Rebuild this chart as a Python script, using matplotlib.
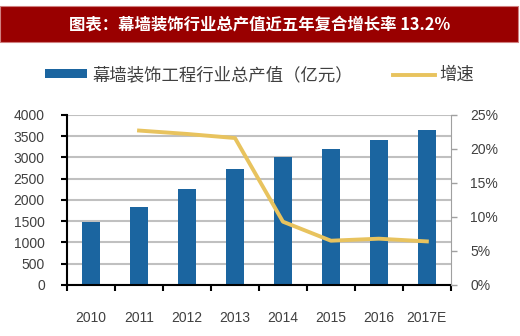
import matplotlib
matplotlib.use('Agg')
import matplotlib.pyplot as plt
from matplotlib.patches import Rectangle
from matplotlib.ticker import FuncFormatter
import numpy as np

plt.rcParams['font.family'] = ['Liberation Sans', 'Noto Sans CJK SC', 'DejaVu Sans']

# 数据
years = ['2010', '2011', '2012', '2013', '2014', '2015', '2016', '2017E']
output_value = [1480, 1830, 2250, 2730, 3000, 3200, 3400, 3650]
growth = [None, 22.7, 22.2, 21.6, 9.3, 6.5, 6.8, 6.4]

title = '图表：幕墙装饰行业总产值近五年复合增长率 13.2%'
bar_label = '幕墙装饰工程行业总产值（亿元）'
line_label = '增速'

bar_color = '#1B65A0'
line_color = '#E8C35E'
grid_color = '#C0C0C0'
text_color = '#404040'

fig = plt.figure(figsize=(5.2, 3.36), dpi=100)

# 标题栏
fig.patches.append(Rectangle((0, 0.875), 0.997, 0.107, transform=fig.transFigure,
                             facecolor='#990000', edgecolor='#D08080', linewidth=0.8))
fig.text(0.5, 0.928, title, color='white', fontsize=11.8, fontweight='bold',
         ha='center', va='center', family=['Noto Sans CJK SC', 'DejaVu Sans'])

ax = fig.add_axes([0.129, 0.152, 0.738, 0.506])
x = np.arange(len(years))
ax.bar(x, output_value, width=0.38, color=bar_color, zorder=3, label=bar_label)
ax.set_xlim(-0.5, len(years) - 0.5)
ax.set_ylim(0, 4000)
ax.set_yticks(range(0, 4001, 500))
ax.grid(axis='y', color=grid_color, linewidth=1.5, zorder=0)
ax.set_axisbelow(True)

ax.set_xticks(x)
ax.set_xticklabels(years)
ax.set_xticks(np.arange(-0.5, len(years)), minor=True)
ax.tick_params(axis='x', which='major', length=0, pad=19, labelsize=10, labelcolor=text_color)
ax.tick_params(axis='x', which='minor', length=4, width=1.5, direction='out', color='black')
ax.tick_params(axis='y', length=4, width=1.5, direction='out', color='black',
               labelsize=10, labelcolor=text_color, pad=12)

for s in ['top', 'right']:
    ax.spines[s].set_visible(False)
ax.spines['left'].set_linewidth(1.5)
ax.spines['bottom'].set_linewidth(1.5)
ax.spines['bottom'].set_zorder(4)

ax2 = ax.twinx()
gx = [i for i, g in enumerate(growth) if g is not None]
gy = [g for g in growth if g is not None]
ax2.plot(gx, gy, color=line_color, linewidth=2.8, zorder=5, label=line_label)
ax2.set_ylim(0, 25)
ax2.set_yticks(range(0, 26, 5))
ax2.yaxis.set_major_formatter(FuncFormatter(lambda v, p: f'{v:.0f}%'))
ax2.tick_params(axis='y', length=4, width=1, color='#A0A0A0', direction='out',
                labelsize=10, labelcolor=text_color, pad=10)
for s in ['top', 'left', 'bottom']:
    ax2.spines[s].set_visible(False)
ax2.spines['right'].set_color('#A0A0A0')

h1, l1 = ax.get_legend_handles_labels()
h2, l2 = ax2.get_legend_handles_labels()
fig.legend(h1 + h2, l1 + l2, loc='center', bbox_to_anchor=(0.5, 0.777), ncol=2,
           frameon=False, handlelength=2.4, handleheight=0.4,
           columnspacing=2.3, handletextpad=0.3,
           prop={'family': ['Noto Sans CJK SC', 'DejaVu Sans'], 'size': 12.5})
for t in fig.legends[0].get_texts():
    t.set_color(text_color)

fig.savefig('out.png', dpi=100)
